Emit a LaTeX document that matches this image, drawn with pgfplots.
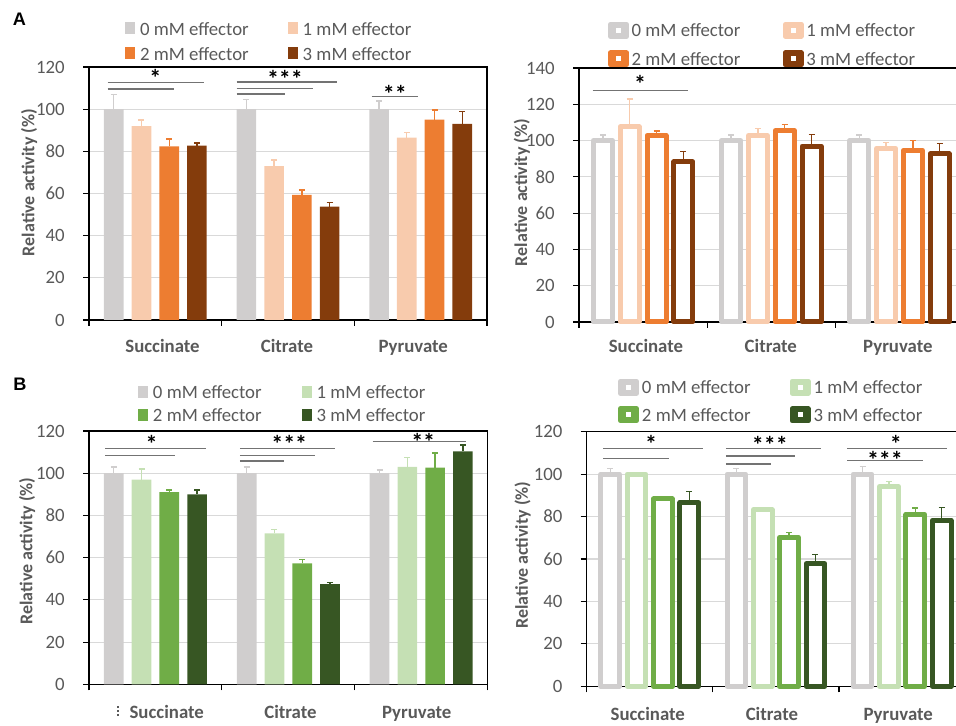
\documentclass[border=0pt]{standalone}
\usepackage{pgfplots}
\pgfplotsset{compat=1.18}
\usepackage{pgfplotstable}
\usepackage{fontspec}
\setmainfont{Carlito}
\newfontfamily\letterfont{Liberation Sans}

\definecolor{c0}{RGB}{208,206,206}
\definecolor{o1}{RGB}{248,203,173}
\definecolor{o2}{RGB}{237,125,49}
\definecolor{o3}{RGB}{132,60,12}
\definecolor{g1}{RGB}{197,224,180}
\definecolor{g2}{RGB}{112,173,71}
\definecolor{g3}{RGB}{55,86,35}
\definecolor{gridc}{RGB}{217,217,217}
\definecolor{txtc}{RGB}{89,89,89}
\definecolor{sigc}{RGB}{115,115,115}

\newcommand\basefont{\fontsize{14.1pt}{17pt}\selectfont}
\newcommand\starfont{\fontsize{18pt}{18pt}\selectfont\bfseries}
% significance stars, glyphs centred on the node with a tight box
\newcommand\stars[1]{\raisebox{-9.2pt}[3.5pt][3.5pt]{#1}}

% Relative activity (%): mean (v) and upper error (e) for 0, 1, 2, 3 mM effector
% cat 0 = succinate, 1 = citrate, 2 = pyruvate
\pgfplotstableread{
cat v0 e0 v1 e1 v2 e2 v3 e3
0 100 7.0 92.0 2.8 82.3 3.5 82.7 1.2
1 100 4.6 73.0 2.9 59.3 2.4 53.8 1.9
2 100 3.9 86.5 2.5 95.0 4.6 93.0 6.0
}\tabAleft
\pgfplotstableread{
cat v0 e0 v1 e1 v2 e2 v3 e3
0 100 3.0 107.5 15.5 102.8 2.5 88.3 5.7
1 100 3.0 102.8 3.8 105.5 3.4 97.0 6.3
2 100 3.0 95.8 3.0 94.7 5.3 92.7 5.6
}\tabAright
\pgfplotstableread{
cat v0 e0 v1 e1 v2 e2 v3 e3
0 100 3.0 97.0 5.0 91.0 1.1 90.0 2.0
1 100 3.0 71.5 2.0 57.3 1.7 47.5 0.8
2 100 1.5 103.0 4.5 102.7 6.8 110.3 3.0
}\tabBleft
\pgfplotstableread{
cat v0 e0 v1 e1 v2 e2 v3 e3
0 100 2.5 100.0 0.4 88.3 0.6 86.6 5.2
1 100 2.5 83.2 0.4 70.2 2.2 57.8 4.2
2 100 3.5 94.2 2.3 81.0 3.0 78.2 6.0
}\tabBright

\pgfplotsset{
  panel/.style={
    scale only axis, clip=false,
    ybar, bar width=0.148,
    xmin=-0.5, xmax=2.5, ymin=0,
    xtick={-0.5,0.5,1.5,2.5}, xticklabels={},
    xtick pos=left, ytick pos=left,
    tick align=outside, major tick length=4.5pt,
    tick style={black, line width=0.9pt},
    axis line style={black, line width=0.9pt},
    ymajorgrids, major grid style={gridc, line width=0.9pt},
    /pgf/number format/assume math mode=true,
    yticklabel style={font=\basefont, text=txtc, anchor=east, inner sep=0pt, xshift=-13.5pt},
    extra x tick labels={Succinate,Citrate,Pyruvate},
    legend columns=2,
    legend style={draw=none, fill=none, inner sep=0pt, outer sep=0pt, anchor=north west,
      font=\basefont, text=txtc,
      nodes={inner sep=0pt, text height=10pt, text depth=0pt},
      /tikz/every odd column/.append style={column sep=3.75pt}},
    legend cell align=left,
    legend entries={0 mM effector,1 mM effector,2 mM effector,3 mM effector},
  },
  catlab/.style={extra x tick style={major tick length=0pt, grid=none,
      tick label style={font=\basefont\bfseries, text=txtc, anchor=base, inner sep=0pt, yshift=#1}}},
  errs/.style={
    error bars/y dir=plus, error bars/y explicit,
    error bars/error bar style={#1, line width=1pt},
    error bars/error mark options={rotate=90, #1, mark size=2.25pt, line width=1pt}},
  solid/.style={fill=#1, draw=none,
    legend image code/.code={\path (0pt,-4.5pt) rectangle (7.5pt,4.5pt);
      \fill[#1] (0pt,-3.75pt) rectangle (7.5pt,3.75pt);},
    errs=#1},
  hollow/.style={fill=white, draw=#1, line width=3.75pt, line join=round,
    legend image code/.code={\path (0pt,-4.5pt) rectangle (12pt,4.5pt);
      \draw[#1, fill=white, line width=4.1pt, line join=round] (2.05pt,-3.95pt) rectangle (9.95pt,3.95pt);},
    errs=#1},
  sh0/.style={bar shift=-0.3135}, sh1/.style={bar shift=-0.1045},
  sh2/.style={bar shift=0.1045}, sh3/.style={bar shift=0.3135},
}
\tikzset{
  sig/.style={sigc, line width=1pt},
  star/.style={font=\starfont, text=black, inner sep=0pt, anchor=center},
  ylab/.style={rotate=90, inner sep=0pt, anchor=center, text=txtc,
    font=\fontsize{13.5pt}{16pt}\selectfont\bfseries},
  letter/.style={font=\letterfont\bfseries\fontsize{13.6pt}{14pt}\selectfont, inner sep=0pt},
}

\begin{document}
\begin{tikzpicture}[font=\basefont]

% ---------------- A, left: filled bars
\begin{axis}[panel, at={(66.75pt,303.75pt)}, anchor=south west,
  width=298.5pt, height=189.75pt, ymax=120, ytick={0,20,...,120},
  extra x ticks={0.054,0.992,1.944}, catlab=-24.75pt,
  legend style={at={(axis description cs:0.0905,1.179)}, row sep=8.75pt,
    /tikz/every even column/.append style={column sep=29.25pt}}]
\addplot[solid=c0, sh0] table[x=cat,y=v0,y error=e0]{\tabAleft};
\addplot[solid=o1, sh1] table[x=cat,y=v1,y error=e1]{\tabAleft};
\addplot[solid=o2, sh2] table[x=cat,y=v2,y error=e2]{\tabAleft};
\addplot[solid=o3, sh3] table[x=cat,y=v3,y error=e3]{\tabAleft};
\draw[sig] (axis cs:-0.36,112.7) -- (axis cs:0.37,112.7);
\draw[sig] (axis cs:-0.36,109.6) -- (axis cs:0.14,109.6);
\node[star] at (axis cs:0,116.8) {\stars{*}};
\draw[sig] (axis cs:0.613,112.9) -- (axis cs:1.371,112.9);
\draw[sig] (axis cs:0.613,109.9) -- (axis cs:1.190,109.9);
\draw[sig] (axis cs:0.613,107.2) -- (axis cs:0.977,107.2);
\node[star] at (axis cs:0.977,115.9) {\stars{***}};
\draw[sig] (axis cs:1.630,105.9) -- (axis cs:1.977,105.9);
\node[star] at (axis cs:1.806,109.2) {\stars{**}};
\end{axis}

% ---------------- A, right: outlined bars
\begin{axis}[panel, at={(434.25pt,302.25pt)}, anchor=south west,
  width=288.5pt, height=190.5pt, ymax=140, ytick={0,20,...,140},
  extra x ticks={0.022,0.996,1.987}, catlab=-23.25pt,
  legend style={at={(axis description cs:0.0754,1.182)}, row sep=8.75pt,
    /tikz/every odd column/.append style={column sep=2pt},
    /tikz/every even column/.append style={column sep=31.75pt}}]
\addplot[hollow=c0, sh0] table[x=cat,y=v0,y error=e0]{\tabAright};
\addplot[hollow=o1, sh1] table[x=cat,y=v1,y error=e1]{\tabAright};
\addplot[hollow=o2, sh2] table[x=cat,y=v2,y error=e2]{\tabAright};
\addplot[hollow=o3, sh3] table[x=cat,y=v3,y error=e3]{\tabAright};
\draw[sig] (axis cs:-0.393,127.7) -- (axis cs:0.352,127.7);
\node[star] at (axis cs:-0.023,133.2) {\stars{*}};
\end{axis}

% ---------------- B, left: filled bars
\begin{axis}[panel, at={(66.75pt,30.5pt)}, anchor=south west,
  width=299pt, height=190pt, ymax=120, ytick={0,20,...,120},
  extra x ticks={0.085,1.016,1.966}, catlab=-25.5pt,
  legend style={at={(axis description cs:0.1229,1.179)}, row sep=7.25pt,
    /tikz/every even column/.append style={column sep=30pt}}]
\addplot[solid=c0, sh0] table[x=cat,y=v0,y error=e0]{\tabBleft};
\addplot[solid=g1, sh1] table[x=cat,y=v1,y error=e1]{\tabBleft};
\addplot[solid=g2, sh2] table[x=cat,y=v2,y error=e2]{\tabBleft};
\addplot[solid=g3, sh3] table[x=cat,y=v3,y error=e3]{\tabBleft};
\draw[sig] (axis cs:-0.377,111.8) -- (axis cs:0.380,111.8);
\draw[sig] (axis cs:-0.377,108.5) -- (axis cs:0.150,108.5);
\node[star] at (axis cs:-0.028,115.7) {\stars{*}};
\draw[sig] (axis cs:0.636,111.6) -- (axis cs:1.349,111.6);
\draw[sig] (axis cs:0.636,108.5) -- (axis cs:1.201,108.5);
\draw[sig] (axis cs:0.636,105.8) -- (axis cs:0.967,105.8);
\node[star] at (axis cs:1.007,115.7) {\stars{***}};
\draw[sig] (axis cs:1.634,115.1) -- (axis cs:2.337,115.1);
\node[star] at (axis cs:2.015,116.5) {\stars{**}};
\end{axis}

% ---------------- B, right: outlined bars
\begin{axis}[panel, at={(440pt,29pt)}, anchor=south west,
  width=283.9pt, height=191pt, ymax=120, ytick={0,20,...,120},
  extra x ticks={-0.016,0.968,1.969}, catlab=-25.9pt,
  legend style={at={(axis description cs:0.0827,1.208)}, row sep=8pt,
    /tikz/every odd column/.append style={column sep=2.25pt},
    /tikz/every even column/.append style={column sep=29.25pt}}]
\addplot[hollow=c0, sh0] table[x=cat,y=v0,y error=e0]{\tabBright};
\addplot[hollow=g1, sh1] table[x=cat,y=v1,y error=e1]{\tabBright};
\addplot[hollow=g2, sh2] table[x=cat,y=v2,y error=e2]{\tabBright};
\addplot[hollow=g3, sh3] table[x=cat,y=v3,y error=e3]{\tabBright};
\draw[sig] (axis cs:-0.368,112.1) -- (axis cs:0.419,112.1);
\draw[sig] (axis cs:-0.368,107.4) -- (axis cs:0.150,107.4);
\node[star] at (axis cs:0.010,115.9) {\stars{*}};
\draw[sig] (axis cs:0.604,112.0) -- (axis cs:1.354,112.0);
\draw[sig] (axis cs:0.604,108.5) -- (axis cs:1.148,108.5);
\draw[sig] (axis cs:0.604,104.8) -- (axis cs:0.958,104.8);
\node[star] at (axis cs:0.952,115.7) {\stars{***}};
\draw[sig] (axis cs:1.565,112.0) -- (axis cs:2.357,112.0);
\draw[sig] (axis cs:1.565,106.3) -- (axis cs:2.162,106.3);
\node[star] at (axis cs:1.951,115.9) {\stars{*}};
\node[star] at (axis cs:1.864,108.5) {\stars{***}};
\end{axis}

% y axis titles
\node[ylab] at (21.75pt,406.9pt) {Relative activity (\%)};
\node[ylab] at (391.3pt,399.4pt) {Relative activity (\%)};
\node[ylab] at (20.25pt,130.5pt) {Relative activity (\%)};
\node[ylab] at (392pt,127.5pt) {Relative activity (\%)};

% panel letters
\node[letter] at (14.6pt,529.1pt) {A};
\node[letter] at (15pt,255.4pt) {B};
\draw[txtc, line width=0.8pt, dash pattern=on 1.2pt off 1.8pt] (88.5pt,6.75pt) -- (88.5pt,14.25pt);

\pgfresetboundingbox
\path[use as bounding box] (0pt,0pt) rectangle (717pt,543.75pt);
\end{tikzpicture}
\end{document}
